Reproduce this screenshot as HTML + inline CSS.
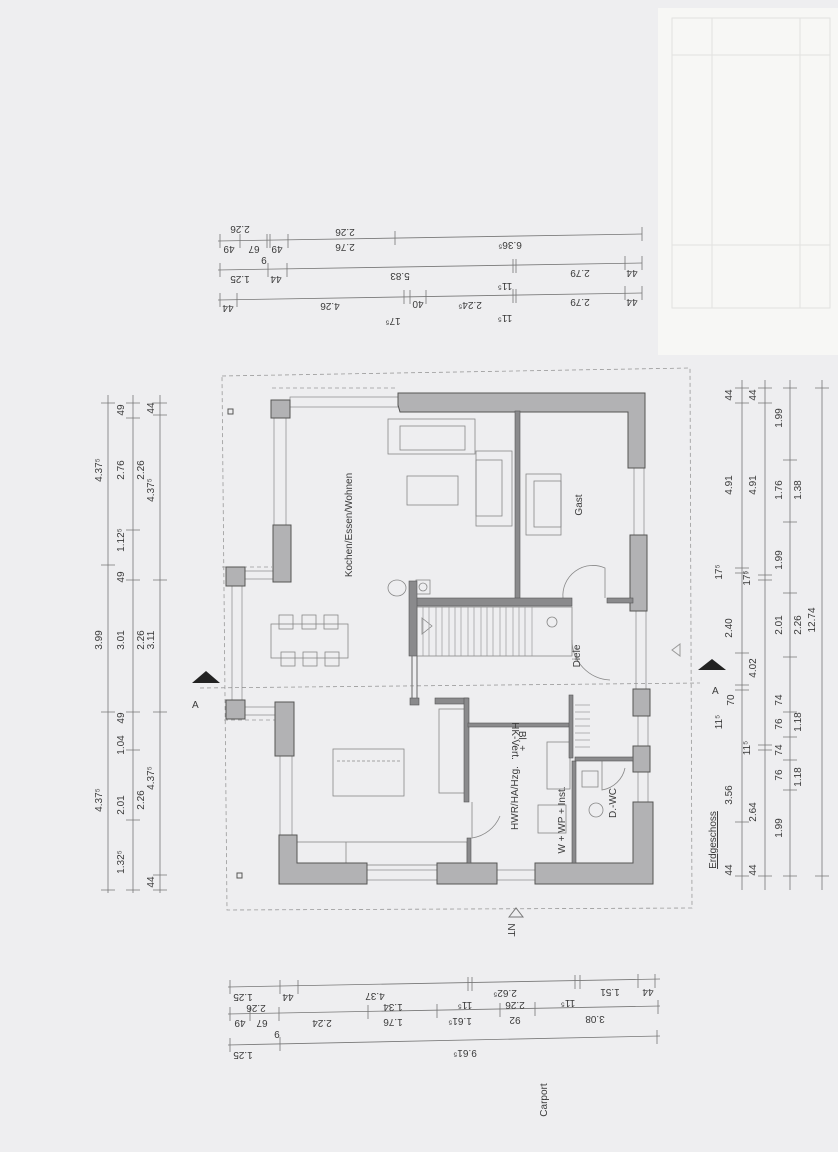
<!DOCTYPE html>
<html><head><meta charset="utf-8"><style>
html,body{margin:0;padding:0;background:#eeeef0;}
svg{display:block}
text{font-family:"Liberation Sans",sans-serif;fill:#3a3a3a;font-size:10px}
.w{fill:#b2b2b4;stroke:#555;stroke-width:1}
.iw{fill:#8a8a8c;stroke:#555;stroke-width:.6}
.f{fill:none;stroke:#888;stroke-width:.8}
.d{stroke:#777;stroke-width:.8;fill:none}
.dash{stroke:#999;stroke-width:.8;stroke-dasharray:4 3;fill:none}
</style></head><body>
<svg width="838" height="1152" viewBox="0 0 838 1152" xmlns="http://www.w3.org/2000/svg">
<rect width="838" height="1152" fill="#eeeef0"/>
<!-- title block -->
<rect x="658" y="8" width="180" height="347" fill="#f7f7f5"/>
<g stroke="#e2e2e0" stroke-width="1" fill="none">
<rect x="672" y="18" width="158" height="290"/>
<line x1="712" y1="18" x2="712" y2="308"/><line x1="800" y1="18" x2="800" y2="308"/>
<line x1="672" y1="55" x2="830" y2="55"/><line x1="672" y1="245" x2="830" y2="245"/>
</g>
<!-- dashed outline -->
<polyline class="dash" points="222,376 690,368 692,908 227,910 222,376"/>
<line class="dash" x1="222" y1="567" x2="272" y2="567"/><line class="dash" x1="224" y1="720" x2="275" y2="720"/>
<line class="dash" x1="200" y1="688" x2="700" y2="683"/>
<polyline class="dash" points="272,388 398,388"/>
<!-- furniture -->
<g class="f">
<rect x="388" y="419" width="87" height="35"/><rect x="400" y="426" width="65" height="24"/>
<rect x="476" y="451" width="36" height="75"/><rect x="476" y="460" width="26" height="56"/>
<rect x="407" y="476" width="51" height="29"/>
<rect x="526" y="474" width="35" height="61"/><rect x="534" y="481" width="27" height="46"/>
<rect x="271" y="624" width="77" height="34"/>
<rect x="279" y="615" width="14" height="14"/><rect x="302" y="615" width="14" height="14"/><rect x="324" y="615" width="14" height="14"/>
<rect x="281" y="652" width="14" height="14"/><rect x="303" y="652" width="14" height="14"/><rect x="325" y="652" width="14" height="14"/>
<ellipse cx="397" cy="588" rx="9" ry="8"/>
<rect x="333" y="749" width="71" height="47"/><line x1="337" y1="761" x2="400" y2="761" stroke-dasharray="3 2"/>
<rect x="439" y="709" width="26" height="84"/>
<rect x="297" y="842" width="170" height="23"/><line x1="346" y1="842" x2="346" y2="865"/>
<rect x="547" y="742" width="23" height="47"/><rect x="538" y="805" width="28" height="28"/>
<rect x="582" y="771" width="16" height="16"/><circle cx="596" cy="810" r="7"/>
<rect x="417" y="607" width="155" height="49"/>
<path d="M 610 680 A 40 40 0 0 1 572 640" />
<path d="M 472 802 L 472 838 A 36 36 0 0 0 500 816" />
<path d="M 563 598 A 30 30 0 0 1 605 568 L 605 598"/>
<path d="M 602 760 L 602 790 A 28 28 0 0 0 625 768"/>
<path d="M 422 618 L 432 626 L 422 634 Z"/><circle cx="552" cy="622" r="5"/>
<rect x="416" y="580" width="14" height="14"/><circle cx="423" cy="587" r="4"/>
<path d="M 570 696 L 570 756"/>
</g>
<!-- stair treads -->
<g stroke="#999" stroke-width=".7">
<line x1="423" y1="607" x2="423" y2="656"/><line x1="429" y1="607" x2="429" y2="656"/><line x1="436" y1="607" x2="436" y2="656"/><line x1="442" y1="607" x2="442" y2="656"/><line x1="449" y1="607" x2="449" y2="656"/><line x1="455" y1="607" x2="455" y2="656"/><line x1="461" y1="607" x2="461" y2="656"/><line x1="468" y1="607" x2="468" y2="656"/><line x1="474" y1="607" x2="474" y2="656"/><line x1="481" y1="607" x2="481" y2="656"/><line x1="487" y1="607" x2="487" y2="656"/><line x1="493" y1="607" x2="493" y2="656"/><line x1="500" y1="607" x2="500" y2="656"/><line x1="506" y1="607" x2="506" y2="656"/><line x1="513" y1="607" x2="513" y2="656"/><line x1="519" y1="607" x2="519" y2="656"/><line x1="525" y1="607" x2="525" y2="656"/><line x1="532" y1="607" x2="532" y2="656"/>
<line x1="575" y1="705" x2="590" y2="705"/><line x1="575" y1="712" x2="590" y2="712"/><line x1="575" y1="719" x2="590" y2="719"/><line x1="575" y1="726" x2="590" y2="726"/><line x1="575" y1="733" x2="590" y2="733"/><line x1="575" y1="740" x2="590" y2="740"/><line x1="575" y1="747" x2="590" y2="747"/>
</g>
<!-- windows -->
<g stroke="#888" stroke-width=".7" fill="none">
<rect x="290" y="397" width="108" height="10"/><rect x="274" y="418" width="12" height="107"/>
<rect x="232" y="586" width="10" height="114"/><rect x="245" y="571" width="28" height="8"/><rect x="245" y="707" width="30" height="8"/>
<rect x="280" y="756" width="12" height="79"/><rect x="367" y="870" width="70" height="10"/><rect x="497" y="870" width="38" height="10"/>
<rect x="634" y="468" width="10" height="67"/><rect x="636" y="611" width="10" height="78"/><rect x="638" y="716" width="10" height="30"/><rect x="638" y="772" width="10" height="30"/>
</g>
<!-- walls -->
<polygon class="w" points="398,393 645,393 645,468 628,468 628,412 400,412 398,405"/>
<rect class="w" x="630" y="535" width="17" height="76"/>
<rect class="w" x="633" y="689" width="17" height="27"/>
<rect class="w" x="633" y="746" width="17" height="26"/>
<polygon class="w" points="633,802 653,802 653,884 535,884 535,863 633,863"/>
<rect class="w" x="437" y="863" width="60" height="21"/>
<polygon class="w" points="279,835 297,835 297,863 367,863 367,884 279,884"/>
<rect class="w" x="275" y="702" width="19" height="54"/>
<rect class="w" x="226" y="567" width="19" height="19"/><rect class="w" x="226" y="700" width="19" height="19"/>
<rect class="w" x="273" y="525" width="18" height="57"/>
<rect class="w" x="271" y="400" width="19" height="18"/>
<!-- interior walls -->
<rect class="iw" x="515" y="411" width="5" height="190"/>
<rect class="iw" x="415" y="598" width="157" height="8"/>
<rect class="iw" x="607" y="598" width="26" height="5"/>
<rect class="iw" x="409" y="581" width="8" height="75"/>
<rect class="iw" x="410" y="698" width="9" height="7"/>
<line x1="412" y1="656" x2="412" y2="698" stroke="#666"/><line x1="417" y1="656" x2="417" y2="698" stroke="#666"/>
<rect class="iw" x="435" y="698" width="33" height="6"/>
<rect class="iw" x="464" y="698" width="5" height="104"/>
<rect class="iw" x="467" y="838" width="4" height="25"/>
<rect class="iw" x="468" y="723" width="104" height="4"/>
<rect class="iw" x="569" y="695" width="4" height="63"/>
<rect class="iw" x="572" y="761" width="4" height="102"/>
<rect class="iw" x="575" y="757" width="58" height="4"/>
<g fill="none" stroke="#555"><rect x="228" y="409" width="5" height="5"/><rect x="237" y="873" width="5" height="5"/></g>
<!-- room labels -->
<text transform="rotate(-90 352 525)" x="352" y="525" text-anchor="middle" font-size="11">Kochen/Essen/Wohnen</text>
<text transform="rotate(-90 582 505)" x="582" y="505" text-anchor="middle" font-size="11">Gast</text>
<text transform="rotate(-90 580 656)" x="580" y="656" text-anchor="middle" font-size="11">Diele</text>
<text transform="rotate(-90 518 798)" x="518" y="798" text-anchor="middle" font-size="11">HWR/HA/Hzg.</text>
<text transform="rotate(-90 616 803)" x="616" y="803" text-anchor="middle" font-size="11">D.-WC</text>
<text transform="rotate(-90 565 820)" x="565" y="820" text-anchor="middle" font-size="6">W + WP + Inst.</text>
<text transform="rotate(90 519 741)" x="519" y="741" text-anchor="middle" font-size="6">Bl. +</text>
<text transform="rotate(90 512 741)" x="512" y="741" text-anchor="middle" font-size="6">HK-Vert.</text>
<text transform="rotate(90 508 930)" x="508" y="930" text-anchor="middle" font-size="5">NT</text>
<path d="M 509 917 L 516 908 L 523 917 Z" fill="none" stroke="#777"/>
<path d="M 672 650 L 680 644 L 680 656 Z" fill="none" stroke="#999"/>
<!-- section markers -->
<path d="M 192 683 L 206 671 L 220 683 Z" fill="#222"/>
<text x="192" y="708" font-size="14">A</text>
<path d="M 698 670 L 712 659 L 726 670 Z" fill="#222"/>
<text x="712" y="694" font-size="14">A</text>
<text transform="rotate(-90 547 1100)" x="547" y="1100" text-anchor="middle" font-size="9">Carport</text>
<!-- left dims -->
<g class="d">
<line x1="108" y1="395" x2="108" y2="893"/><line x1="133" y1="395" x2="133" y2="893"/><line x1="160" y1="395" x2="160" y2="893"/>
<path d="M101 403h14M101 565h14M101 712h14M101 890h14"/>
<path d="M126 403h14M126 418h14M126 530h14M126 580h14M126 712h14M126 750h14M126 820h14M126 890h14"/>
<path d="M153 403h14M153 415h14M153 580h14M153 712h14M153 875h14M153 890h14"/>
</g>
<g font-size="10">
<text transform="rotate(-90 102 470)" x="102" y="470" text-anchor="middle">4.37⁵</text>
<text transform="rotate(-90 102 640)" x="102" y="640" text-anchor="middle">3.99</text>
<text transform="rotate(-90 102 800)" x="102" y="800" text-anchor="middle">4.37⁵</text>
<text transform="rotate(-90 124 410)" x="124" y="410" text-anchor="middle">49</text>
<text transform="rotate(-90 124 470)" x="124" y="470" text-anchor="middle">2.76</text>
<text transform="rotate(-90 124 540)" x="124" y="540" text-anchor="middle">1.12⁵</text>
<text transform="rotate(-90 124 577)" x="124" y="577" text-anchor="middle">49</text>
<text transform="rotate(-90 124 640)" x="124" y="640" text-anchor="middle">3.01</text>
<text transform="rotate(-90 124 718)" x="124" y="718" text-anchor="middle">49</text>
<text transform="rotate(-90 124 745)" x="124" y="745" text-anchor="middle">1.04</text>
<text transform="rotate(-90 124 805)" x="124" y="805" text-anchor="middle">2.01</text>
<text transform="rotate(-90 124 862)" x="124" y="862" text-anchor="middle">1.32⁵</text>
<text transform="rotate(-90 144 470)" x="144" y="470" text-anchor="middle">2.26</text>
<text transform="rotate(-90 144 640)" x="144" y="640" text-anchor="middle">2.26</text>
<text transform="rotate(-90 144 800)" x="144" y="800" text-anchor="middle">2.26</text>
<text transform="rotate(-90 154 490)" x="154" y="490" text-anchor="middle">4.37⁵</text>
<text transform="rotate(-90 154 640)" x="154" y="640" text-anchor="middle">3.11</text>
<text transform="rotate(-90 154 778)" x="154" y="778" text-anchor="middle">4.37⁵</text>
<text transform="rotate(-90 154 408)" x="154" y="408" text-anchor="middle">44</text>
<text transform="rotate(-90 154 882)" x="154" y="882" text-anchor="middle">44</text>
</g>
<!-- right dims -->
<g class="d">
<line x1="742" y1="380" x2="742" y2="890"/><line x1="765" y1="380" x2="765" y2="890"/><line x1="790" y1="380" x2="790" y2="890"/><line x1="822" y1="380" x2="822" y2="890"/>
<path d="M735 388h14M735 403h14M735 568h14M735 573h14M735 653h14M735 685h14M735 690h14M735 822h14M735 876h14"/>
<path d="M758 388h14M758 403h14M758 575h14M758 580h14M758 745h14M758 750h14M758 876h14"/>
<path d="M783 388h14M783 460h14M783 522h14M783 593h14M783 657h14M783 712h14M783 737h14M783 760h14M783 790h14M783 876h14"/>
<path d="M815 388h14M815 876h14"/>
</g>
<g font-size="10">
<text transform="rotate(-90 732 395)" x="732" y="395" text-anchor="middle">44</text>
<text transform="rotate(-90 732 485)" x="732" y="485" text-anchor="middle">4.91</text>
<text transform="rotate(-90 722 572)" x="722" y="572" text-anchor="middle">17⁵</text>
<text transform="rotate(-90 732 628)" x="732" y="628" text-anchor="middle">2.40</text>
<text transform="rotate(-90 734 700)" x="734" y="700" text-anchor="middle">70</text>
<text transform="rotate(-90 722 722)" x="722" y="722" text-anchor="middle">11⁵</text>
<text transform="rotate(-90 732 795)" x="732" y="795" text-anchor="middle">3.56</text>
<text transform="rotate(-90 732 870)" x="732" y="870" text-anchor="middle">44</text>
<text transform="rotate(-90 756 395)" x="756" y="395" text-anchor="middle">44</text>
<text transform="rotate(-90 756 485)" x="756" y="485" text-anchor="middle">4.91</text>
<text transform="rotate(-90 750 578)" x="750" y="578" text-anchor="middle">17⁵</text>
<text transform="rotate(-90 756 668)" x="756" y="668" text-anchor="middle">4.02</text>
<text transform="rotate(-90 750 748)" x="750" y="748" text-anchor="middle">11⁵</text>
<text transform="rotate(-90 756 812)" x="756" y="812" text-anchor="middle">2.64</text>
<text transform="rotate(-90 756 870)" x="756" y="870" text-anchor="middle">44</text>
<text transform="rotate(-90 782 418)" x="782" y="418" text-anchor="middle">1.99</text>
<text transform="rotate(-90 782 490)" x="782" y="490" text-anchor="middle">1.76</text>
<text transform="rotate(-90 782 560)" x="782" y="560" text-anchor="middle">1.99</text>
<text transform="rotate(-90 782 625)" x="782" y="625" text-anchor="middle">2.01</text>
<text transform="rotate(-90 782 700)" x="782" y="700" text-anchor="middle">74</text>
<text transform="rotate(-90 782 724)" x="782" y="724" text-anchor="middle">76</text>
<text transform="rotate(-90 782 750)" x="782" y="750" text-anchor="middle">74</text>
<text transform="rotate(-90 782 775)" x="782" y="775" text-anchor="middle">76</text>
<text transform="rotate(-90 782 828)" x="782" y="828" text-anchor="middle">1.99</text>
<text transform="rotate(-90 801 490)" x="801" y="490" text-anchor="middle">1.38</text>
<text transform="rotate(-90 801 625)" x="801" y="625" text-anchor="middle">2.26</text>
<text transform="rotate(-90 801 722)" x="801" y="722" text-anchor="middle">1.18</text>
<text transform="rotate(-90 801 777)" x="801" y="777" text-anchor="middle">1.18</text>
<text transform="rotate(-90 815 620)" x="815" y="620" text-anchor="middle">12.74</text>
<text transform="rotate(-90 716 840)" x="716" y="840" text-anchor="middle" text-decoration="underline">Erdgeschoss</text>
</g>
<!-- top dims -->
<g class="d">
<line x1="218" y1="241" x2="642" y2="234"/><line x1="218" y1="270" x2="642" y2="263"/><line x1="218" y1="300" x2="642" y2="293"/>
<path d="M220 234v14M240 234v14M267 234v14M270 234v14M288 234v14M395 231v14M642 227v14"/>
<path d="M220 263v14M268 263v14M287 263v14M513 259v14M516 259v14M625 256v14M642 256v14"/>
<path d="M220 293v14M237 293v14M404 290v14M410 290v14M426 290v14M513 289v14M516 289v14M625 286v14M642 286v14"/>
</g>
<g font-size="10">
<text transform="rotate(180 240 226)" x="240" y="226" text-anchor="middle">2.26</text>
<text transform="rotate(180 229 246)" x="229" y="246" text-anchor="middle">49</text>
<text transform="rotate(180 254 246)" x="254" y="246" text-anchor="middle">67</text>
<text transform="rotate(180 277 246)" x="277" y="246" text-anchor="middle">49</text>
<text transform="rotate(180 345 244)" x="345" y="244" text-anchor="middle">2.76</text>
<text transform="rotate(180 345 229)" x="345" y="229" text-anchor="middle">2.26</text>
<text transform="rotate(180 510 242)" x="510" y="242" text-anchor="middle">6.36⁵</text>
<text transform="rotate(180 264 257)" x="264" y="257" text-anchor="middle">9</text>
<text transform="rotate(180 240 276)" x="240" y="276" text-anchor="middle">1.25</text>
<text transform="rotate(180 276 276)" x="276" y="276" text-anchor="middle">44</text>
<text transform="rotate(180 400 273)" x="400" y="273" text-anchor="middle">5.83</text>
<text transform="rotate(180 505 283)" x="505" y="283" text-anchor="middle">11⁵</text>
<text transform="rotate(180 580 270)" x="580" y="270" text-anchor="middle">2.79</text>
<text transform="rotate(180 632 270)" x="632" y="270" text-anchor="middle">44</text>
<text transform="rotate(180 228 305)" x="228" y="305" text-anchor="middle">44</text>
<text transform="rotate(180 330 303)" x="330" y="303" text-anchor="middle">4.26</text>
<text transform="rotate(180 393 318)" x="393" y="318" text-anchor="middle">17⁵</text>
<text transform="rotate(180 418 301)" x="418" y="301" text-anchor="middle">40</text>
<text transform="rotate(180 470 302)" x="470" y="302" text-anchor="middle">2.24⁵</text>
<text transform="rotate(180 505 315)" x="505" y="315" text-anchor="middle">11⁵</text>
<text transform="rotate(180 580 299)" x="580" y="299" text-anchor="middle">2.79</text>
<text transform="rotate(180 632 299)" x="632" y="299" text-anchor="middle">44</text>
</g>
<!-- bottom dims -->
<g class="d">
<line x1="228" y1="987" x2="660" y2="979"/><line x1="228" y1="1014" x2="660" y2="1006"/><line x1="228" y1="1045" x2="660" y2="1036"/>
<path d="M230 980v14M280 980v14M298 980v14M468 977v14M472 977v14M575 975v14M580 975v14M638 974v14M655 974v14"/>
<path d="M230 1007v14M250 1007v14M279 1007v14M368 1005v14M437 1004v14M500 1003v14M535 1002v14M658 1000v14"/>
<path d="M230 1038v14M280 1037v14M657 1030v14"/>
</g>
<g font-size="10">
<text transform="rotate(180 243 994)" x="243" y="994" text-anchor="middle">1.25</text>
<text transform="rotate(180 288 994)" x="288" y="994" text-anchor="middle">44</text>
<text transform="rotate(180 375 993)" x="375" y="993" text-anchor="middle">4.37</text>
<text transform="rotate(180 465 1002)" x="465" y="1002" text-anchor="middle">11⁵</text>
<text transform="rotate(180 505 990)" x="505" y="990" text-anchor="middle">2.62⁵</text>
<text transform="rotate(180 568 1000)" x="568" y="1000" text-anchor="middle">11⁵</text>
<text transform="rotate(180 610 989)" x="610" y="989" text-anchor="middle">1.51</text>
<text transform="rotate(180 648 989)" x="648" y="989" text-anchor="middle">44</text>
<text transform="rotate(180 240 1020)" x="240" y="1020" text-anchor="middle">49</text>
<text transform="rotate(180 262 1020)" x="262" y="1020" text-anchor="middle">67</text>
<text transform="rotate(180 256 1005)" x="256" y="1005" text-anchor="middle">2.26</text>
<text transform="rotate(180 322 1020)" x="322" y="1020" text-anchor="middle">2.24</text>
<text transform="rotate(180 393 1019)" x="393" y="1019" text-anchor="middle">1.76</text>
<text transform="rotate(180 393 1004)" x="393" y="1004" text-anchor="middle">1.34</text>
<text transform="rotate(180 460 1018)" x="460" y="1018" text-anchor="middle">1.61⁵</text>
<text transform="rotate(180 515 1017)" x="515" y="1017" text-anchor="middle">92</text>
<text transform="rotate(180 515 1002)" x="515" y="1002" text-anchor="middle">2.26</text>
<text transform="rotate(180 595 1016)" x="595" y="1016" text-anchor="middle">3.08</text>
<text transform="rotate(180 277 1031)" x="277" y="1031" text-anchor="middle">9</text>
<text transform="rotate(180 243 1052)" x="243" y="1052" text-anchor="middle">1.25</text>
<text transform="rotate(180 465 1050)" x="465" y="1050" text-anchor="middle">9.61⁵</text>
</g>
</svg>
</body></html>
